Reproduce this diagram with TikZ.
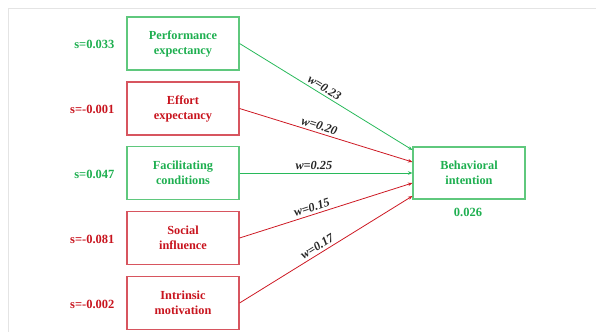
\documentclass[tikz,border=0pt]{standalone}
\usepackage{fontspec}
\setmainfont{Liberation Serif}
\usetikzlibrary{arrows.meta,calc}
\definecolor{gtext}{RGB}{30,175,80}
\definecolor{rtext}{RGB}{200,20,30}
\definecolor{gbord}{RGB}{95,200,125}
\definecolor{rbord}{RGB}{215,85,95}
\definecolor{gline}{RGB}{40,185,90}
\definecolor{rline}{RGB}{205,25,35}
\definecolor{frame}{RGB}{228,228,228}
\begin{document}
\begin{tikzpicture}[x=1pt,y=-1pt,
  box/.style={draw, line width=1.1pt, minimum width=112pt, minimum height=53pt, align=center,
    font=\fontsize{12.3}{15}\selectfont\bfseries, inner sep=0pt},
  gbox/.style={box, draw=gbord, text=gtext},
  rbox/.style={box, draw=rbord, text=rtext},
  slab/.style={anchor=east, font=\fontsize{12.5}{14}\selectfont\bfseries},
  wlab/.style={sloped, above, inner sep=2.5pt, font=\fontsize{12.3}{14}\selectfont\bfseries\itshape, text=black!85},
  conn/.style={line width=0.8pt, -{Stealth[length=4.5pt,width=3.5pt]}}]
\useasboundingbox (0,0) rectangle (596,332);
\draw[frame, line width=1pt] (596,8) -- (8,8) -- (8,332);
\node[gbox] (pe) at (183,43.5) {Performance\\expectancy};
\node[rbox] (ee) at (183,108.5) {Effort\\expectancy};
\node[gbox] (fc) at (183,173) {Facilitating\\conditions};
\node[rbox] (si) at (183,238) {Social\\influence};
\node[rbox] (im) at (183,303) {Intrinsic\\motivation};
\node[gbox, minimum height=52pt] (bi) at (469,173) {Behavioral\\intention};
\node[slab, text=gtext] (spe) at (118,44) {s=0.033};
\node[slab, text=rtext] (see) at (118,109) {s=-0.001};
\node[slab, text=gtext] (sfc) at (118,174) {s=0.047};
\node[slab, text=rtext] (ssi) at (118,239) {s=-0.081};
\node[slab, text=rtext] (sim) at (118,304) {s=-0.002};
\node[font=\fontsize{12.5}{14}\selectfont\bfseries, text=gtext] (sbi) at (468,212) {0.026};
\coordinate (e1) at ([yshift=23pt]bi.west);
\coordinate (e2) at ([yshift=11pt]bi.west);
\coordinate (e3) at (bi.west);
\coordinate (e4) at ([yshift=-10pt]bi.west);
\coordinate (e5) at ([yshift=-23pt]bi.west);
\draw[conn, gline] (pe.east) -- node[wlab, pos=0.47] {w=0.23} (e1);
\draw[conn, rline] (ee.east) -- node[wlab, pos=0.45] {w=0.20} (e2);
\draw[conn, gline] (fc.east) -- node[wlab, pos=0.43] {w=0.25} (e3);
\draw[conn, rline] (si.east) -- node[wlab, pos=0.43] {w=0.15} (e4);
\draw[conn, rline] (im.east) -- node[wlab, pos=0.47] {w=0.17} (e5);
\end{tikzpicture}
\end{document}
